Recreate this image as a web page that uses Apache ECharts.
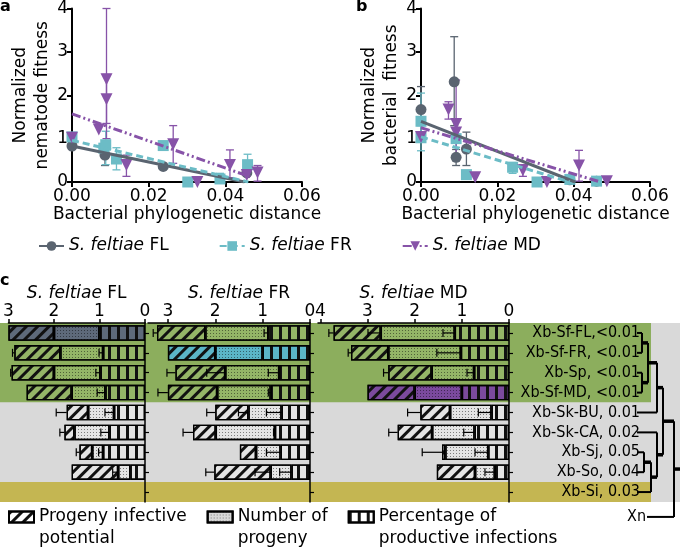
<!DOCTYPE html>
<html><head><meta charset="utf-8">
<script src="https://cdn.jsdelivr.net/npm/echarts@6/dist/echarts.min.js"></script>
<style>html,body{margin:0;padding:0;background:#fff}#c{width:680px;height:548px}</style>
</head><body><div id="c"></div>
<script>
// ================= DATA =================
// ---- panels a / b : scatter points [distance, fitness] ----
const speciesNames = ['S. feltiae FL', 'S. feltiae FR', 'S. feltiae MD'];
const xTickStep = 0.02, xMax = 0.06, yMax = 4;

const nemFL = [[0,0.83],[0.0086,0.62],[0.0238,0.36],[0.0456,0.21]];
const nemFR = [[0,1.04],[0.0083,0.78],[0.0088,0.86],[0.0116,0.53],[0.0238,0.84],[0.0302,0],[0.0386,0.07],[0.0458,0.40]];
const nemMD = [[0,1.02],[0.0070,1.21],[0.0090,2.37],[0.0090,1.91],[0.0142,0.39],[0.0264,0.87],[0.0327,0],[0.0412,0.39],[0.0456,0.16],[0.0484,0.22]];
// error bars [distance, low, high]
const nemFLErr = [[0.0086,0.38,0.70]];
const nemFRErr = [[0,0.96,1.13],[0.0088,0.40,1.17],[0.0116,0.28,0.79],[0.0386,0,0.20],[0.0458,0.20,0.64]];
const nemMDErr = [[0,0.95,1.10],[0.0090,1.00,4.00],[0.0090,1.35,2.48],[0.0142,0.13,0.62],[0.0264,0.43,1.30],[0.0412,0.10,0.74],[0.0484,0.02,0.38]];
// regression lines (end points)
const nemFLFit = [[0,0.83],[0.0450,0]];
const nemFRFit = [[0,0.96],[0.0460,0]];
const nemMDFit = [[0,1.57],[0.0465,0.12]];

const bacFL = [[0,1.67],[0.0087,2.31],[0.0092,0.57],[0.0119,0.76],[0.0390,0.05],[0.0460,0.02]];
const bacFR = [[0,1.40],[0,1.02],[0.0092,1.00],[0.0119,0.17],[0.0240,0.34],[0.0304,0],[0.0390,0.06],[0.0460,0.02]];
const bacMD = [[0,1.04],[0.0072,1.67],[0.0092,1.34],[0.0092,1.14],[0.0142,0.11],[0.0267,0.27],[0.0330,0],[0.0414,0.38],[0.0487,0.02]];
const bacFLErr = [[0,1.10,2.20],[0.0087,1.30,3.35],[0.0092,0.38,0.75],[0.0119,0.38,1.15]];
const bacFRErr = [[0,1.10,2.05],[0,0.72,1.30],[0.0092,0.80,1.40],[0.0240,0.20,0.45]];
const bacMDErr = [[0.0072,1.45,1.85],[0.0092,0.50,2.35],[0.0267,0.13,0.40],[0.0414,0.02,0.73]];
const bacFLFit = [[0,1.40],[0.0404,0]];
const bacFRFit = [[0,1.04],[0.0390,0]];
const bacMDFit = [[0,1.25],[0.0470,0]];

// ---- panel c : stacked bars ----
const strains = ['Xb-Sf-FL,<0.01','Xb-Sf-FR, <0.01','Xb-Sp, <0.01','Xb-Sf-MD, <0.01','Xb-Sk-BU, 0.01','Xb-Sk-CA, 0.02','Xb-Sj, 0.05','Xb-So, 0.04','Xb-Si, 0.03'];
const strainGroup = ['sf','sf','sf','sf','sk','sk','sk','sk','si'];
const componentNames = ['Percentage of\nproductive infections','Number of\nprogeny','Progeny infective\npotential'];
const panelTitles = ['FL','FR','MD'];
const panelTicks = [[0,1,2,3],[0,1,2,3],[0,1,2,3,4]];
const panelMax = [3.0, 3.42, 4.05];
const panelOwnRow = [0, 1, 3];

const flPct  = [1.00,0.92,0.98,0.87,0.68,0.78,0.92,0.32,null];
const flProg = [1.00,0.94,1.02,0.74,0.57,0.77,0.24,0.27,null];
const flPot  = [1.00,1.01,0.93,0.99,0.47,0.22,0.28,1.02,null];
const frPct  = [0.88,1.00,0.65,0.83,0.60,0.74,0.62,0.39,null];
const frProg = [1.33,1.00,1.14,1.13,0.70,1.25,0.52,0.44,null];
const frPot  = [1.02,1.00,1.05,1.04,0.70,0.48,0.34,1.19,null];
const mdPct  = [1.15,1.02,0.74,1.00,0.37,0.73,0.44,0.30,null];
const mdProg = [1.57,1.54,0.90,1.00,0.88,0.90,0.91,0.42,null];
const mdPot  = [1.00,0.79,0.92,1.00,0.63,0.73,0.07,0.81,null];
// one-sided errors
const flPctErr  = [0,0.09,0.10,0.18,0.20,0.19,0.10,0,0];
const flProgErr = [0,0,0,0,0,0,0,0.12,0];
const flPotErr  = [0,0.04,0.02,0,0.23,0.10,0.07,0,0];
const frPctErr  = [0.09,0,0.23,0.05,0.32,0.03,0.30,0.25,0];
const frProgErr = [0,0,0.39,0,0.21,0,0,0.33,0];
const frPotErr  = [0.08,0,0.18,0.21,0.18,0.21,0,0.18,0];
const mdPctErr  = [0.25,0.51,0.15,0,0.28,0.23,0.28,0.21,0];
const mdProgErr = [0.27,0,0,0,0,0,0,0,0];
const mdPotErr  = [0.10,0.06,0.10,0,0.27,0.19,0.42,0,0];

// ---- dendrogram (branch positions, leaf = row index) ----
const treeLeafStart = 7, treeStemEnd = 50;
const outgroupLabel = 'Xn', outgroupRow = 9.25, outgroupStart = 17;
const tree = {h:44, kids:[
  {h:33, kids:[
    {h:27, kids:[ {h:18, kids:[ {h:12, kids:[0,1]}, {h:12, kids:[2,3]} ]}, 4 ]},
    {h:27, kids:[ 5, {h:21, kids:[ {h:14, kids:[6,7]}, 8 ]} ]}
  ]},
  'OUT'
]};

// ================= STYLE =================
const FONT = 'DejaVu Sans';
const NARROW = "'DejaVu Sans Condensed', 'DejaVu Sans'";
const SPECIES_STYLE = [
  {color:'#5a6470', symbol:'circle', size:11, rot:0, dash:'solid'},
  {color:'#6cbcc6', symbol:'rect', size:11, rot:0, dash:[7,4]},
  {color:'#8753a8', symbol:'triangle', size:12, rot:180, dash:[9,3,2,3,2,3]}
];
const BAND = {sf:'#8cae5d', sk:'#d9d9d9', si:'#c4b652'};
const BAR_FILL = {sf:'#94b567', sk:'#e4e4e4', si:'#c4b652'};
const OWN_FILL = ['#5e6a7a', '#5bb5c7', '#7b4a9d'];
const DECAL = {
  pot:  {symbol:'rect', symbolSize:1, dashArrayX:[1,0], dashArrayY:[3,5], rotation:-Math.PI/4, color:'#111'},
  prog: {symbol:'rect', symbolSize:1, dashArrayX:[1,2], dashArrayY:[1,2], color:'rgba(0,0,0,0.45)'},
  pct:  {symbol:'rect', symbolSize:1, dashArrayX:[3,6], dashArrayY:[1,0], color:'#111'}
};
const LEGEND_FILL = {pot:'#ffffff', prog:'#d8d8d8', pct:'#ffffff'};
const richItalic = {i:{fontStyle:'italic', fontSize:17, fontFamily:FONT, color:'#000'}};

// ================= BUILD =================
const chart = echarts.init(document.getElementById('c'), null, {renderer:'canvas', width:680, height:548});

const axisLineStyle = {color:'#000', width:2};
function scatterAxes(gi, yName, nameGap) {
  return {
    x: {gridIndex:gi, type:'value', min:0, max:xMax, interval:xTickStep,
        axisLine:{show:true, lineStyle:axisLineStyle}, axisTick:{show:true, length:5, lineStyle:axisLineStyle},
        axisLabel:{fontSize:17, color:'#000', margin:6, formatter:v => v.toFixed(2)},
        splitLine:{show:false}, name:'Bacterial phylogenetic distance', nameLocation:'middle', nameGap:22,
        nameTextStyle:{fontSize:17, color:'#000'}},
    y: {gridIndex:gi, type:'value', min:0, max:yMax, interval:1,
        axisLine:{show:true, lineStyle:axisLineStyle}, axisTick:{show:true, length:5, lineStyle:axisLineStyle},
        axisLabel:{fontSize:17, color:'#000', margin:4}, splitLine:{show:false},
        name:yName, nameLocation:'middle', nameGap:nameGap,
        nameTextStyle:{fontSize:17, color:'#000', lineHeight:22}}
  };
}

function errRender(color) {
  return function (params, api) {
    const x = api.value(0), lo = api.value(1), hi = api.value(2);
    const p1 = api.coord([x, lo]), p2 = api.coord([x, hi]);
    const w = 4, st = {stroke:color, lineWidth:1.3};
    return {type:'group', children:[
      {type:'line', shape:{x1:p1[0], y1:p1[1], x2:p2[0], y2:p2[1]}, style:st},
      {type:'line', shape:{x1:p1[0]-w, y1:p1[1], x2:p1[0]+w, y2:p1[1]}, style:st},
      {type:'line', shape:{x1:p2[0]-w, y1:p2[1], x2:p2[0]+w, y2:p2[1]}, style:st}
    ]};
  };
}

const grids = [
  {left:0, top:323, width:680, height:179},   // 0 grey background
  {left:0, top:323, width:651, height:179},   // 1 coloured bands
  {left:72, top:6, width:230, height:176},    // 2 panel a
  {left:421, top:6, width:229, height:176},   // 3 panel b
  {left:3, top:323, width:142, height:179},   // 4 c FL
  {left:148, top:323, width:162, height:179}, // 5 c FR
  {left:318, top:323, width:191, height:179}, // 6 c MD
  {left:630, top:323, width:50, height:179}   // 7 tree
];
const xAxes = [], yAxes = [];
xAxes.push({gridIndex:0, type:'value', show:false, min:0, max:1});
yAxes.push({gridIndex:0, type:'category', data:strains, inverse:true, z:-2,
  axisLine:{show:false}, axisTick:{show:false}, axisLabel:{show:false}, splitLine:{show:false},
  splitArea:{show:true, areaStyle:{color:[BAND.sk]}}});
xAxes.push({gridIndex:1, type:'value', show:false, min:0, max:1});
yAxes.push({gridIndex:1, type:'category', data:strains, inverse:true, z:-1,
  axisLine:{show:false}, axisTick:{show:false}, axisLabel:{show:false}, splitLine:{show:false},
  splitArea:{show:true, interval:0, areaStyle:{color:strainGroup.map(g => BAND[g])}}});
const ax = scatterAxes(2, 'Normalized\nnematode fitness', 13);
const bx = scatterAxes(3, 'Normalized\nbacterial  fitness', 15);
xAxes.push(ax.x, bx.x); yAxes.push(ax.y, bx.y);
for (let k = 0; k < 3; k++) {
  xAxes.push({gridIndex:4+k, type:'value', position:'top', inverse:true, min:0, max:panelMax[k],
    axisLine:{show:true, onZero:false, lineStyle:{color:'#000', width:1.5}},
    axisTick:{show:true, length:4, customValues:panelTicks[k], lineStyle:{color:'#000', width:1.5}},
    axisLabel:{customValues:panelTicks[k], fontSize:17, color:'#000', margin:3},
    splitLine:{show:false},
    name:'{i|S. feltiae} ' + panelTitles[k], nameLocation:'middle', nameGap:20,
    nameTextStyle:{fontSize:17, color:'#000', rich:richItalic, padding: k === 1 ? [0,0,0,20] : 0}});
  yAxes.push({gridIndex:4+k, type:'category', data:strains, inverse:true, position:'right',
    axisLine:{show:true, onZero:false, lineStyle:{color:'#000', width:1.5}},
    axisTick:{show:true, alignWithLabel:true, interval:0, length:4, lineStyle:{color:'#000', width:1.2}},
    axisLabel:{show:k === 2, interval:0, fontSize:16, fontFamily:NARROW, color:'#000', align:'right', margin:131},
    splitLine:{show:false}});
}
xAxes.push({gridIndex:7, type:'value', min:0, max:treeStemEnd, show:false});
yAxes.push({gridIndex:7, type:'value', min:-0.5, max:8.5, inverse:true, show:false});

const series = [];
const abPanels = [
  {xi:2, pts:[nemFL,nemFR,nemMD], errs:[nemFLErr,nemFRErr,nemMDErr], fits:[nemFLFit,nemFRFit,nemMDFit]},
  {xi:3, pts:[bacFL,bacFR,bacMD], errs:[bacFLErr,bacFRErr,bacMDErr], fits:[bacFLFit,bacFRFit,bacMDFit]}
];
abPanels.forEach(p => {
  for (let s = 0; s < 3; s++) {
    const st = SPECIES_STYLE[s];
    series.push({type:'line', name:speciesNames[s], xAxisIndex:p.xi, yAxisIndex:p.xi, data:p.fits[s],
      symbol:st.symbol, symbolSize:st.size, symbolRotate:st.rot, showSymbol:false, z:4,
      lineStyle:{color:st.color, width:3, type:st.dash}, itemStyle:{color:st.color}});
  }
});
abPanels.forEach(p => {
  for (let s = 0; s < 3; s++) {
    const st = SPECIES_STYLE[s];
    series.push({type:'custom', name:speciesNames[s], xAxisIndex:p.xi, yAxisIndex:p.xi, data:p.errs[s],
      encode:{x:0, y:[1,2]}, renderItem:errRender(st.color), z:2});
    series.push({type:'scatter', name:speciesNames[s], xAxisIndex:p.xi, yAxisIndex:p.xi, data:p.pts[s],
      symbol:st.symbol, symbolSize:st.size, symbolRotate:st.rot, itemStyle:{color:st.color, opacity:1}, z:3});
  }
});

const cData = [[flPct,flProg,flPot],[frPct,frProg,frPot],[mdPct,mdProg,mdPot]];
const cErr = [[flPctErr,flProgErr,flPotErr],[frPctErr,frProgErr,frPotErr],[mdPctErr,mdProgErr,mdPotErr]];
const compKeys = ['pct','prog','pot'];
for (let k = 0; k < 3; k++) {
  compKeys.forEach((key, j) => {
    series.push({type:'bar', name:componentNames[j], xAxisIndex:4+k, yAxisIndex:4+k, stack:'c'+k,
      barWidth:'78%', z:2,
      itemStyle:{color:LEGEND_FILL[key], borderColor:'#000', borderWidth:1.3, decal:DECAL[key]},
      data:cData[k][j].map((v, i) => ({value:v, itemStyle:{
        color: i === panelOwnRow[k] ? OWN_FILL[k] : BAR_FILL[strainGroup[i]],
        borderColor:'#000', borderWidth:1.3, decal:DECAL[key]}}))});
  });
  const errItems = [];
  strains.forEach((_, i) => {
    let cum = 0;
    for (let j = 0; j < 3; j++) {
      const v = cData[k][j][i];
      if (v == null) continue;
      cum += v;
      if (cErr[k][j][i] > 0) errItems.push([cum, i, cErr[k][j][i]]);
    }
  });
  series.push({type:'custom', xAxisIndex:4+k, yAxisIndex:4+k, data:errItems, z:5,
    encode:{x:0, y:1},
    renderItem:function (params, api) {
      const x = api.value(0), row = api.value(1), e = api.value(2);
      const a = api.coord([x, row]), b = api.coord([x + e, row]);
      const st = {stroke:'#000', lineWidth:1.2};
      return {type:'group', children:[
        {type:'line', shape:{x1:a[0], y1:a[1], x2:b[0], y2:b[1]}, style:st},
        {type:'line', shape:{x1:b[0], y1:b[1]-4, x2:b[0], y2:b[1]+4}, style:st}
      ]};
    }});
}

const treeSegs = [];
function layoutTree(node, parentH) {
  if (typeof node === 'number') {
    treeSegs.push([treeLeafStart, node, parentH, node, 2]);
    return node;
  }
  if (node === 'OUT') {
    treeSegs.push([outgroupStart, outgroupRow, parentH, outgroupRow, 2]);
    return outgroupRow;
  }
  const ys = node.kids.map(c => layoutTree(c, node.h));
  const y0 = Math.min(...ys), y1 = Math.max(...ys), ym = (y0 + y1) / 2;
  treeSegs.push([node.h, y0, node.h, y1, 2]);
  treeSegs.push([node.h, ym, parentH, ym, 3.5]);
  return ym;
}
layoutTree(tree, treeStemEnd);
series.push({type:'custom', xAxisIndex:7, yAxisIndex:7, data:treeSegs, z:6, encode:{x:[0,2], y:[1,3]},
  renderItem:function (params, api) {
    const a = api.coord([api.value(0), api.value(1)]), b = api.coord([api.value(2), api.value(3)]);
    return {type:'line', shape:{x1:a[0], y1:a[1], x2:b[0], y2:b[1]}, style:{stroke:'#000', lineWidth:api.value(4)}};
  }});
series.push({type:'custom', xAxisIndex:7, yAxisIndex:7, data:[[outgroupStart - 1, outgroupRow]], z:6,
  encode:{x:0, y:1},
  renderItem:function (params, api) {
    const p = api.coord([api.value(0), api.value(1)]);
    return {type:'text', x:p[0], y:p[1], style:{text:outgroupLabel, fontSize:16, fontFamily:NARROW,
      fill:'#000', align:'right', verticalAlign:'middle'}};
  }});

const option = {
  animation:false,
  backgroundColor:'#fff',
  textStyle:{fontFamily:FONT},
  title:[
    {text:'a', left:0, top:-1, padding:0, textStyle:{fontSize:16, fontWeight:'bold', fontFamily:FONT, color:'#000'}},
    {text:'b', left:356, top:-1, padding:0, textStyle:{fontSize:16, fontWeight:'bold', fontFamily:FONT, color:'#000'}},
    {text:'c', left:0, top:273, padding:0, textStyle:{fontSize:16, fontWeight:'bold', fontFamily:FONT, color:'#000'}}
  ],
  grid:grids,
  xAxis:xAxes,
  yAxis:yAxes,
  legend:[
    {data:speciesNames, left:38, top:236, padding:0, itemGap:50, itemWidth:25, itemHeight:12,
     formatter:n => { const p = n.split(' '); return '{i|' + p[0] + ' ' + p[1] + '} ' + p[2]; },
     textStyle:{fontSize:17, fontFamily:FONT, color:'#000', lineHeight:20, rich:richItalic}},
    {data:[componentNames[2], componentNames[1], componentNames[0]], left:8, top:484, padding:0,
     itemGap:20, itemWidth:25, itemHeight:11, icon:'rect',
     formatter:n => ' \n' + n,
     textStyle:{fontSize:17, fontFamily:FONT, color:'#000', lineHeight:22}}
  ],
  series:series
};
chart.setOption(option);
</script>
</body></html>
